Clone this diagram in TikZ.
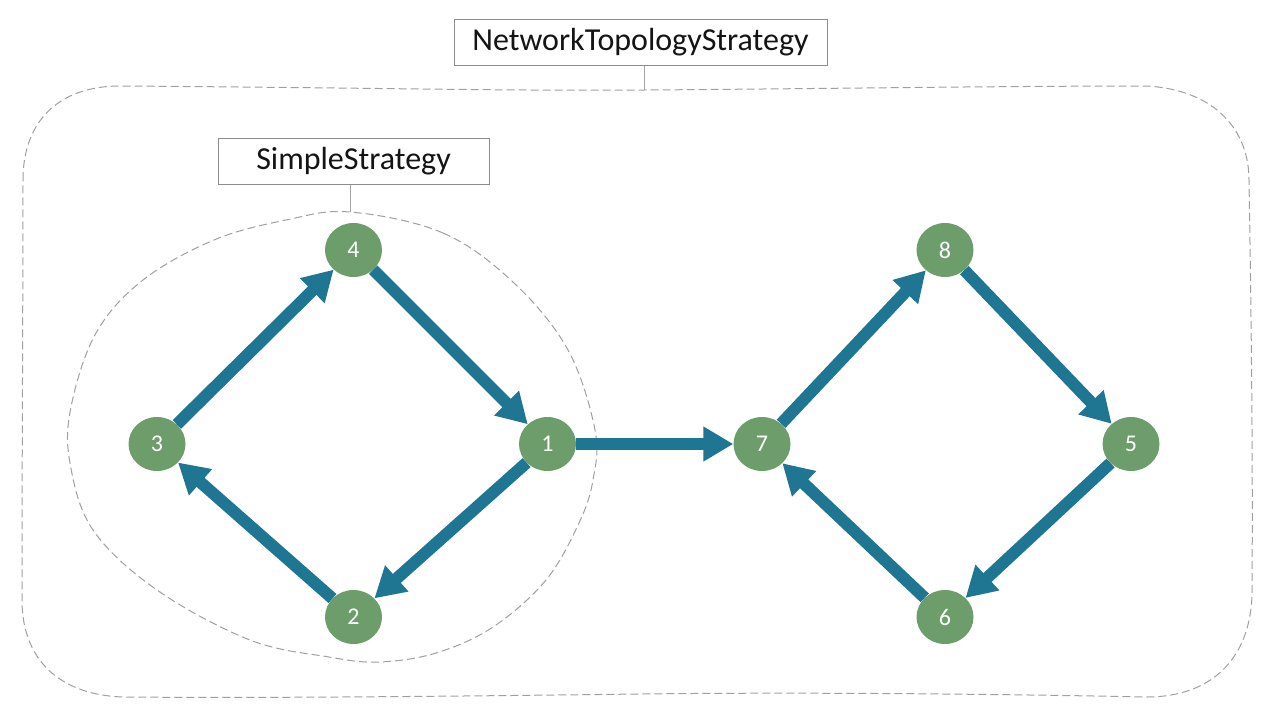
\documentclass[tikz,border=0pt]{standalone}
\usepackage{fontspec}
\setmainfont{Carlito}
\usetikzlibrary{arrows.meta,shapes.geometric}
\definecolor{nodegreen}{RGB}{108,157,107}
\definecolor{arrowblue}{RGB}{30,118,146}
\definecolor{dashgray}{RGB}{160,160,160}
\definecolor{boxgray}{RGB}{140,140,140}
\definecolor{txt}{RGB}{20,20,20}
\tikzset{
  vnode/.style={ellipse, fill=nodegreen, minimum width=57pt, minimum height=54pt, inner sep=0pt,
    text=white, font=\fontsize{24}{26}\selectfont},
  flow/.style={draw=arrowblue, line width=12pt, -{Triangle[width=33pt,length=30pt]}},
  labelbox/.style={draw=boxgray, line width=1pt, fill=white, minimum height=46pt, inner sep=0pt,
    text=txt, font=\fontsize{32}{34}\selectfont},
  region/.style={draw=dashgray, line width=1pt, dash pattern=on 8pt off 4pt},
  tie/.style={draw=boxgray!80, line width=1pt}
}
\begin{document}
\begin{tikzpicture}[x=1pt,y=-1pt]
\useasboundingbox (0,0) rectangle (1280,720);
\fill[white] (0,0) rectangle (1280,720);

% outer region
\draw[region] (23,180) .. controls (23,120) and (60,86) .. (120,86)
  .. controls (400,88) and (500,91) .. (644,90)
  .. controls (800,89) and (1000,86) .. (1147,86)
  .. controls (1215,90) and (1249,130) .. (1249,180)
  .. controls (1251,300) and (1253,450) .. (1252,595)
  .. controls (1250,660) and (1210,697) .. (1147,697)
  .. controls (1000,694) and (800,692) .. (640,694)
  .. controls (400,697) and (250,698) .. (123,697)
  .. controls (60,695) and (22,660) .. (22,600)
  .. controls (22,450) and (23,300) .. (23,180) -- cycle;

% inner region
\draw[region] plot[smooth cycle, tension=0.6] coordinates {
  (350,212) (443,233) (514,283) (568,350) (595,430) (593,480) (579,523) (546,580)
  (493,627) (436,653) (379,662) (329,657) (250,640) (157,590) (93,530) (70,463)
  (71,407) (96,333) (143,280) (214,240) (286,220)};

% labels
\node[labelbox, minimum width=373pt] (nts) at (640.5,42) {NetworkTopologyStrategy};
\node[labelbox, minimum width=271pt] (ss) at (353.5,161) {SimpleStrategy};
\coordinate (ntsc) at (644,90);
\coordinate (ssc) at (350,212);
\draw[tie] (ntsc |- nts.south) -- (ntsc);
\draw[tie] (ssc |- ss.south) -- (ssc);

% nodes
\node[vnode] (n4) at (353.5,250) {4};
\node[vnode] (n1) at (547.5,444) {1};
\node[vnode] (n2) at (353.5,617) {2};
\node[vnode] (n3) at (157,444) {3};
\node[vnode] (n7) at (762,444) {7};
\node[vnode] (n8) at (945,250) {8};
\node[vnode] (n5) at (1131,444) {5};
\node[vnode] (n6) at (945,617) {6};

% arrows
\draw[flow] (n4) -- (n1);
\draw[flow] (n1) -- (n2);
\draw[flow] (n2) -- (n3);
\draw[flow] (n3) -- (n4);
\draw[flow] (n1) -- (n7);
\draw[flow] (n7) -- (n8);
\draw[flow] (n8) -- (n5);
\draw[flow] (n5) -- (n6);
\draw[flow] (n6) -- (n7);
\end{tikzpicture}
\end{document}
